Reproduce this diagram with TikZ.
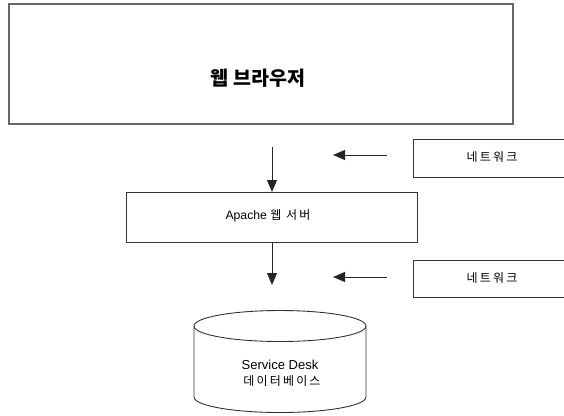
\documentclass[tikz,border=0pt]{standalone}
\usepackage{fontspec}
\setmainfont{Liberation Sans}
\newfontfamily\kr{Noto Sans CJK KR}
\newfontfamily\krw{Noto Sans CJK KR}[LetterSpace=18]
\usetikzlibrary{arrows.meta}
\begin{document}
\begin{tikzpicture}[x=1pt,y=-1pt,
  boxline/.style={draw=black!80,line width=0.9pt},
  arr/.style={draw=black!85,line width=1pt,-{Triangle[length=12pt,width=10pt]}},
  lbl/.style={inner sep=0pt,font=\fontsize{12}{14}\selectfont}]
\useasboundingbox (0,0) rectangle (564,415);
\clip (0,0) rectangle (564,415);
\fill[white] (0,0) rectangle (564,415);
% top box
\draw[draw=black!60,line width=1.6pt] (9,4) rectangle (513,124);
\node[inner sep=0pt,font=\fontsize{19.5}{22}\selectfont\kr\bfseries] (browser) at (258,78) {웹 브라우저};
% apache box
\draw[boxline] (126,192) rectangle (417,242);
\node[lbl] (apache) at (268,216) {\fontsize{12.2}{14}\selectfont Apache {\krw\fontsize{12}{14}\selectfont 웹 서버}};
\coordinate (apTop) at (272,192);
\coordinate (apBot) at (272,242);
% network boxes
\draw[boxline] (413,139) rectangle (570,177);
\node[lbl] (net1) at (492,157) {\krw 네트워크};
\draw[boxline] (413,260) rectangle (570,297);
\node[lbl] (net2) at (492,278) {\krw 네트워크};
% arrows
\coordinate (a1s) at (272,147);
\draw[arr] (a1s) -- (apTop);
\coordinate (a2e) at (272,285);
\draw[arr] (apBot) -- (a2e);
\coordinate (n1s) at (387,155);
\coordinate (n1e) at (333,155);
\draw[arr] (n1s) -- (n1e);
\coordinate (n2s) at (387,277);
\coordinate (n2e) at (333,277);
\draw[arr] (n2s) -- (n2e);
% cylinder
\draw[boxline,fill=white] (194,326) -- (194,397) arc[start angle=180,end angle=0,x radius=86,y radius=15.5] -- (366,326);
\draw[boxline] (280,326) ellipse [x radius=86,y radius=15.5];
\node[lbl,font=\fontsize{13}{15}\selectfont] (db) at (280,365) {Service Desk};
\node[lbl] (db2) at (282,381) {\krw 데이터베이스};
\end{tikzpicture}
\end{document}
